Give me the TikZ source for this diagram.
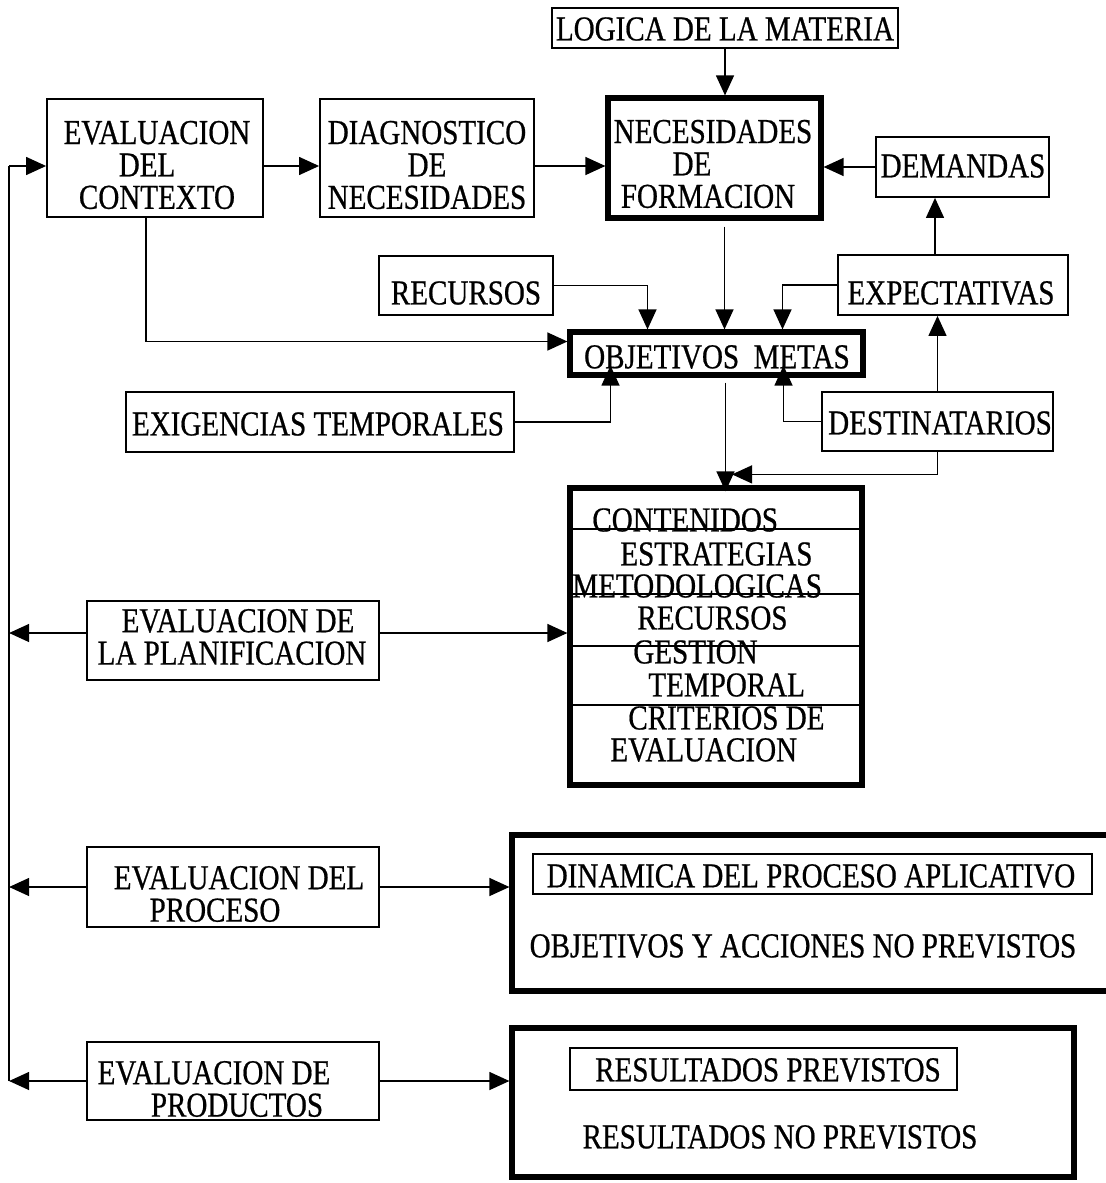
\documentclass[tikz,border=0pt]{standalone}
\usepackage{fontspec}
\setmainfont{Liberation Serif}[FakeStretch=0.83,FakeBold=0.6]
\usetikzlibrary{arrows.meta,fit,calc}
\begin{document}
\begin{tikzpicture}[x=0.5pt,y=-0.5pt,
  every node/.style={font=\fontsize{17.5}{16.2}\selectfont},
  bx/.style={draw, line width=0.9pt, inner sep=0pt},
  tbx/.style={draw, line width=2.6pt, inner sep=0pt},
  tx/.style={inner sep=0pt, align=center},
  tl/.style={inner sep=0pt, anchor=west},
  ln/.style={line width=0.65pt},
  arr/.style={ln, -{Triangle[length=10pt,width=9pt]}},
]
\useasboundingbox (0,0) rectangle (1105,1183);

% boxes
\node[bx,  fit={(552,8)(898,48)}]     (lm)   {};
\node[bx,  fit={(47,99)(263,217)}]    (ctx)  {};
\node[bx,  fit={(320,99)(534,217)}]   (diag) {};
\node[tbx, fit={(608,98)(821,218)}]   (nec)  {};
\node[bx,  fit={(876,137)(1049,197)}] (dem)  {};
\node[bx,  fit={(838,255)(1068,315)}] (exp)  {};
\node[bx,  fit={(379,256)(553,315)}]  (rec)  {};
\node[tbx, fit={(570,332)(863,375)}]  (obj)  {};
\node[bx,  fit={(126,392)(514,452)}]  (exig) {};
\node[bx,  fit={(822,392)(1053,451)}] (dest) {};
\node[tbx, fit={(570,488)(862,785)}]  (cont) {};
\node[bx,  fit={(87,601)(379,680)}]   (plan) {};
\node[bx,  fit={(87,847)(379,927)}]   (proc) {};
\node[tbx, fit={(512,835)(1114,991)}] (din)  {};
\node[bx,  fit={(533,854)(1092,894)}] (dinin) {};
\node[bx,  fit={(87,1042)(379,1120)}] (prod) {};
\node[tbx, fit={(512,1028)(1074,1177)}] (res) {};
\node[bx,  fit={(570,1048)(957,1090)}] (resin) {};

% texts
\node[tx] (lmT)   at (725,29)  {LOGICA DE LA MATERIA};
\node[tx] (ctxT)  at (157,165) {EVALUACION\\\hspace*{-10pt}DEL\\CONTEXTO};
\node[tx] (diagT) at (427,165) {DIAGNOSTICO\\DE\\NECESIDADES};
\node[tx] (necT)  at (713,164) {NECESIDADES\\\hspace*{-21pt}DE\\\hspace*{-5pt}FORMACION};
\node[tx] (demT)  at (963,166) {DEMANDAS};
\node[tx] (expT)  at (951,293) {EXPECTATIVAS};
\node[tx] (recT)  at (466,293) {RECURSOS};
\node[tx] (objT)  at (717,357) {OBJETIVOS\ \ METAS};
\node[tx] (exigT) at (318,424) {EXIGENCIAS TEMPORALES};
\node[tx] (destT) at (940,423) {DESTINATARIOS};
\node[tl] (c1T) at (592,520) {CONTENIDOS};
\node[tl] (c2T) at (620,554) {ESTRATEGIAS};
\node[tl] (c3T) at (572,586) {METODOLOGICAS};
\node[tl] (c4T) at (637,618) {RECURSOS};
\node[tl] (c5T) at (633,652) {GESTION};
\node[tl] (c6T) at (648,685) {TEMPORAL};
\node[tl] (c7T) at (628,718) {CRITERIOS DE};
\node[tl] (c8T) at (610,750) {EVALUACION};
\node[tx] (planT) at (232,637) {\hspace*{6pt}EVALUACION DE\\LA PLANIFICACION};
\node[tx] (procT) at (239,894) {EVALUACION DEL\\\hspace*{-24pt}PROCESO};
\node[tx] (prodT) at (214,1089) {EVALUACION DE\\\hspace*{23pt}PRODUCTOS};
\node[tx] (dininT) at (811,876) {DINAMICA DEL PROCESO APLICATIVO};
\node[tx] (din2T)  at (803,946) {OBJETIVOS Y ACCIONES NO PREVISTOS};
\node[tx] (resinT) at (768,1070) {RESULTADOS PREVISTOS};
\node[tx] (res2T)  at (780,1137) {RESULTADOS NO PREVISTOS};

% divider lines inside contents box
\draw[ln] (cont.west |- 0,529) -- (cont.east |- 0,529);
\draw[ln] (cont.west |- 0,594) -- (cont.east |- 0,594);
\draw[ln] (cont.west |- 0,646) -- (cont.east |- 0,646);
\draw[ln] (cont.west |- 0,705) -- (cont.east |- 0,705);

% connectors
\draw[arr] (lm.south) -- (lm.south |- nec.north);
\draw[arr] ($(ctx.east)+(0,8)$) -- ($(diag.west)+(0,8)$);
\draw[arr] ($(diag.east)+(0,8)$) -- ($(nec.west)+(0,8)$);
\draw[arr] (dem.west) -- (dem.west -| nec.east);
\coordinate (e1) at ($(exp.north)+(-18,0)$);
\draw[arr] (e1) -- (e1 |- dem.south);
\draw[arr] (dest.north) -- (dest.north |- exp.south);
\draw[arr] (rec.east) -| ($(obj.north)+(-69,0)$);
\coordinate (n1) at ($(nec.south)+(10,6)$);
\draw[arr] (n1) -- (n1 |- obj.north);
\draw[arr] (exp.west) -| ($(obj.north)+(66,0)$);
\coordinate (c1) at ($(ctx.south)+(-9,0)$);
\draw[arr] (c1) |- ($(obj.west)+(0,-12)$);
\draw[arr] (exig.east) -| ($(obj.south)+(-106,-12)$);
\draw[arr] (dest.west) -| ($(obj.south)+(67,-12)$);
\coordinate (o1) at ($(obj.south)+(9,5)$);
\draw[arr] (o1) -- ($(o1 |- cont.north)+(0,6)$);
\draw[arr] (dest.south) |- ($(cont.north)+(16,-11)$);
\coordinate (p1) at ($(plan.east)+(0,-7.5)$);
\draw[arr] (p1) -- (p1 -| cont.west);

% left return line
\coordinate (sT) at ($(ctx.west)+(-37,8)$);
\coordinate (sB) at (sT |- prod.west);
\draw[ln] (sB) -- (sT);
\draw[arr] (sT) -- ($(ctx.west)+(0,8)$);
\coordinate (p2) at ($(plan.west)+(0,-7.5)$);
\draw[arr] (p2) -- (p2 -| sT);
\draw[arr] (proc.west) -- (proc.west -| sT);
\draw[arr] (prod.west) -- (prod.west -| sT);
\draw[arr] (proc.east) -- (proc.east -| din.west);
\draw[arr] (prod.east) -- (prod.east -| res.west);
\end{tikzpicture}
\end{document}
